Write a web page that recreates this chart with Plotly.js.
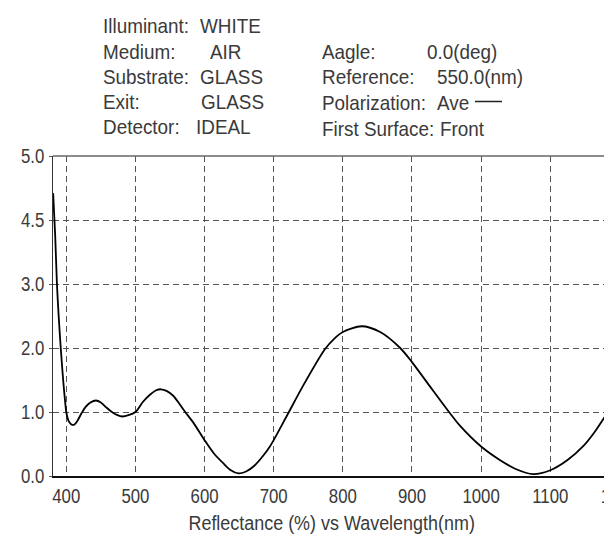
<!DOCTYPE html>
<html>
<head>
<meta charset="utf-8">
<script src="https://cdn.plot.ly/plotly-3.0.1.min.js"></script>
<style>
  html, body { margin: 0; padding: 0; overflow: hidden; background: #fff; }
  #chart { width: 700px; height: 534px; }
</style>
</head>
<body>
<div id="chart"></div>
<script>
// Reflectance spectrum of the coating (wavelength in nm)
const wavelength = [381, 384, 386.5, 389, 392, 395.5, 398, 400, 403, 407, 411, 416, 422, 428, 435, 443, 450, 458, 466, 474, 481, 490, 500, 511, 521, 530, 537, 545, 555, 564, 572, 584, 600, 613, 627, 638, 649, 660, 672, 685, 695, 700, 721, 743, 774, 787, 800, 827, 854, 883, 900, 926, 955, 969, 1000, 1027, 1050, 1075, 1100, 1125, 1148, 1165, 1178, 1190];
const reflectance = [4.42, 3.75, 3.0, 2.5, 2.0, 1.5, 1.2, 1.0, 0.87, 0.81, 0.80, 0.86, 0.98, 1.08, 1.15, 1.18, 1.15, 1.07, 1.0, 0.95, 0.93, 0.95, 1.0, 1.16, 1.27, 1.34, 1.355, 1.33, 1.25, 1.12, 1.0, 0.83, 0.56, 0.36, 0.2, 0.09, 0.04, 0.07, 0.16, 0.32, 0.47, 0.56, 0.98, 1.42, 1.98, 2.14, 2.25, 2.34, 2.25, 2.0, 1.78, 1.40, 0.98, 0.79, 0.46, 0.25, 0.11, 0.03, 0.09, 0.25, 0.47, 0.7, 0.91, 1.1];

// Axis ticks
const xTickVals = [400, 500, 600, 700, 800, 900, 1000, 1100, 1200];
const yTickVals = [0, 1, 2, 3, 4, 5];
const yTickText = ['0.0', '1.0', '2.0', '3.0', '4.5', '5.0'];

// Header block: design parameters
const leftLabels = ['Illuminant:', 'Medium:', 'Substrate:', 'Exit:', 'Detector:'];
const leftValues = ['WHITE', 'AIR', 'GLASS', 'GLASS', 'IDEAL'];
const rightLabels = ['Aagle:', 'Reference:', 'Polarization:', 'First Surface:'];
const rightValues = ['0.0(deg)', '550.0(nm)', 'Ave', 'Front'];
const xTitle = 'Reflectance (%) vs Wavelength(nm)';

// Page geometry (pixels)
const W = 700, H = 534;
const M = { l: 53, r: 60, t: 156, b: 58 };
const plotW = W - M.l - M.r, plotH = H - M.t - M.b;
const fx = p => (p - M.l) / plotW;
const fy = p => (H - M.b - p) / plotH;

const FONT = '"Liberation Sans", Arial, sans-serif';
const TXT = '#3a3a3a';
const FS = 21;

const annotations = [];
const leftLabelX = 101;
const leftValueX = [198, 208, 198, 199, 194];
const leftRowY = [25, 51, 76, 101, 126];
leftLabels.forEach((t, i) => {
  annotations.push({ text: t, x: fx(leftLabelX), y: fy(leftRowY[i]) });
  annotations.push({ text: leftValues[i], x: fx(leftValueX[i]), y: fy(leftRowY[i]) });
});
const rightLabelX = 320;
const rightValueX = [425, 435, 435, 438];
const rightRowY = [51, 76, 102, 128];
rightLabels.forEach((t, i) => {
  annotations.push({ text: t, x: fx(rightLabelX), y: fy(rightRowY[i]) });
  annotations.push({ text: rightValues[i], x: fx(rightValueX[i]), y: fy(rightRowY[i]) });
});
annotations.forEach(a => Object.assign(a, {
  xref: 'paper', yref: 'paper', xanchor: 'left', yanchor: 'middle', align: 'left',
  showarrow: false, font: { family: FONT, size: FS, color: TXT }
}));
annotations.push({
  text: xTitle, xref: 'paper', yref: 'paper', x: fx(331.5), y: fy(522),
  xanchor: 'center', yanchor: 'middle', align: 'center', showarrow: false,
  font: { family: FONT, size: FS, color: TXT }
});

const trace = {
  x: wavelength, y: reflectance, type: 'scatter', mode: 'lines',
  line: { color: '#000', width: 1.8, shape: 'spline', smoothing: 0.8 },
  hoverinfo: 'skip'
};

const layout = {
  width: W, height: H,
  margin: M,
  paper_bgcolor: '#fff', plot_bgcolor: '#fff',
  showlegend: false,
  xaxis: {
    range: [380.8, 380.8 + plotW / 0.6914],
    tickvals: xTickVals, ticktext: xTickVals.map(String),
    showgrid: true, gridcolor: '#555', griddash: '6px,4px', gridwidth: 1,
    showline: true, linecolor: '#111', linewidth: 1.5,
    ticks: '', zeroline: false,
    tickfont: { family: FONT, size: FS, color: TXT }
  },
  yaxis: {
    range: [0, 5],
    tickvals: yTickVals, ticktext: yTickText,
    showgrid: true, gridcolor: '#555', griddash: '6px,4px', gridwidth: 1,
    showline: true, linecolor: '#333', linewidth: 1.5,
    ticks: 'outside', ticklen: 3, tickcolor: '#555',
    zeroline: false,
    tickfont: { family: FONT, size: FS, color: TXT }
  },
  shapes: [
    { type: 'line', xref: 'paper', yref: 'paper', x0: 0, x1: 1, y0: 1, y1: 1,
      line: { color: '#666', width: 1.5 } },
    // legend key next to "Ave"
    { type: 'line', xref: 'paper', yref: 'paper', x0: fx(475), x1: fx(502), y0: fy(101.5), y1: fy(101.5),
      line: { color: '#222', width: 1.5 } }
  ],
  annotations: annotations
};

// Narrow the glyphs horizontally around each text's anchor point
function condense(gd) {
  const squeeze = (t, s) => {
    const x = parseFloat(t.getAttribute('x')) || 0;
    const y = parseFloat(t.getAttribute('y')) || 0;
    const prev = t.getAttribute('transform') || '';
    t.setAttribute('transform', `${prev} translate(${x},${y}) scale(${s},1) translate(${-x},${-y})`);
  };
  gd.querySelectorAll('.xtick text, .ytick text').forEach(t => squeeze(t, 0.8));
  gd.querySelectorAll('.annotation-text').forEach(t => {
    squeeze(t, t.textContent === xTitle ? 0.855 : 0.9);
  });
}

Plotly.newPlot('chart', [trace], layout, { staticPlot: true, displayModeBar: false })
  .then(condense);
</script>
</body>
</html>
